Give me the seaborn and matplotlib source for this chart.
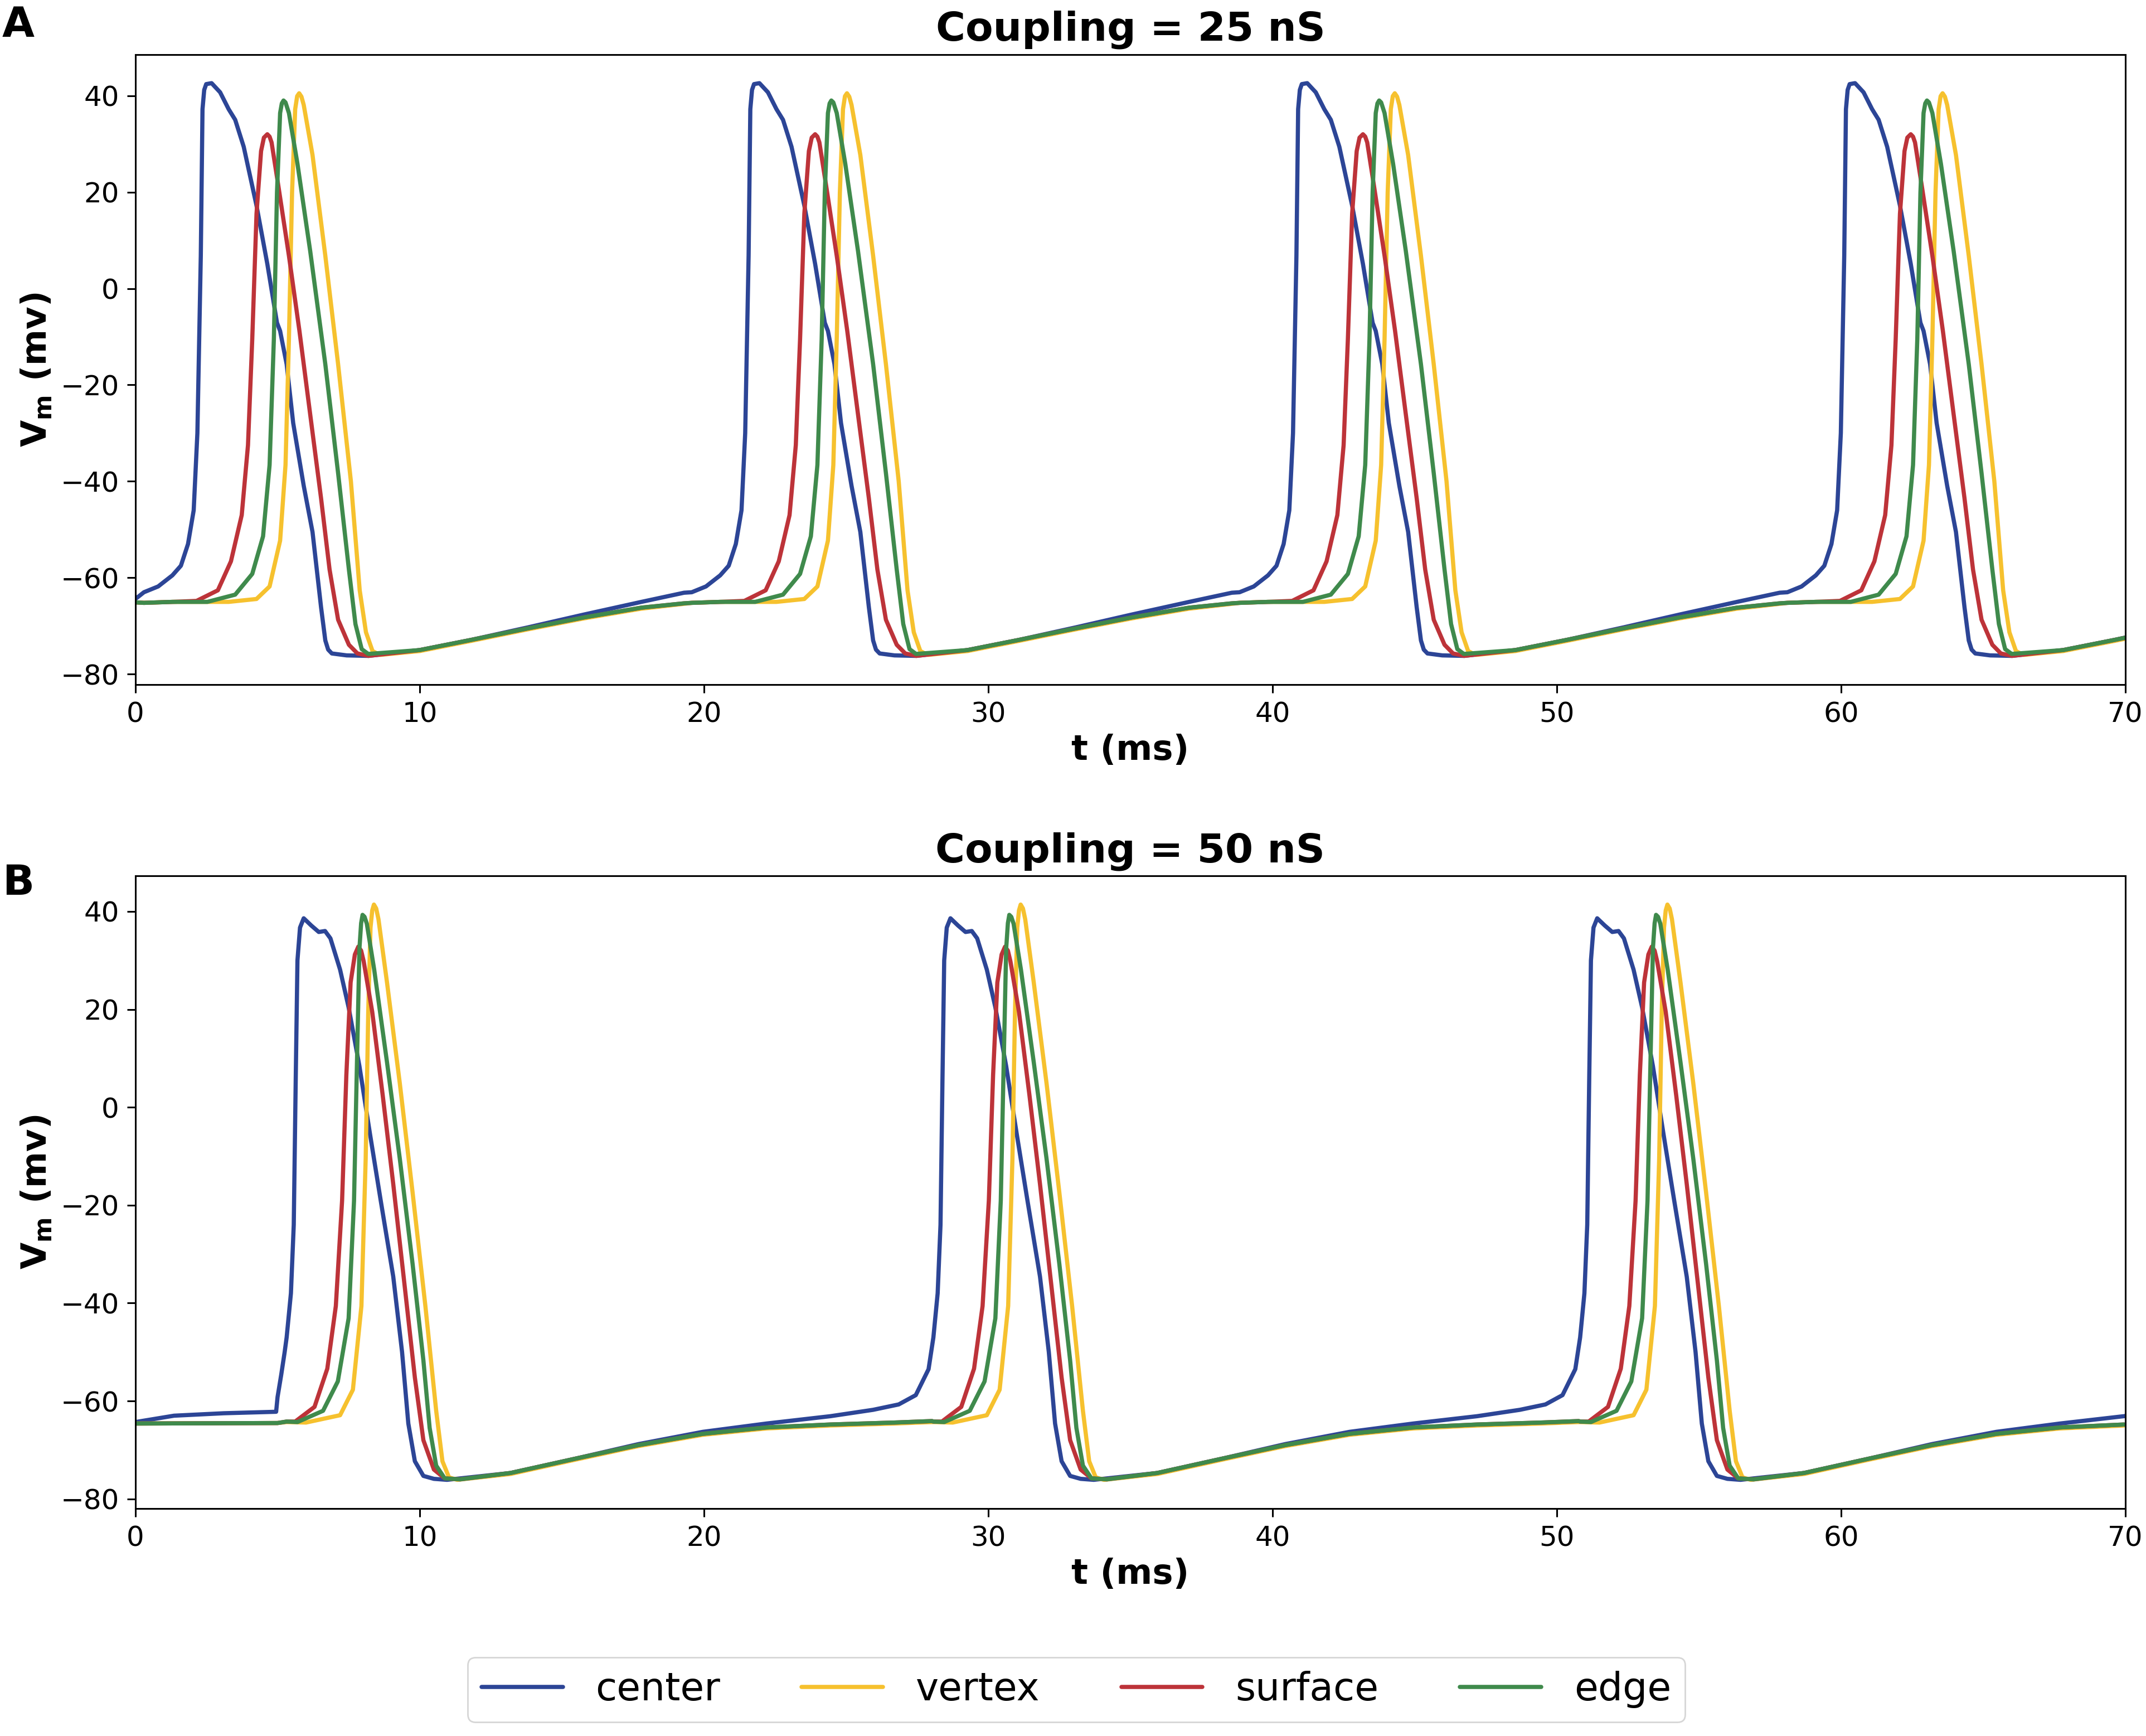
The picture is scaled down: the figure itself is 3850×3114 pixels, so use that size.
import numpy as np
import pandas as pd
import matplotlib.pyplot as plt
import seaborn as sns

#%%
# traces, in legend / drawing order
traces = ['center', 'vertex', 'surface', 'edge']
colors = {'center': '#2c4596', 'vertex': '#f6c12e', 'surface': '#bd3339', 'edge': '#3f8a4c'}

# ---------------- Panel A : coupling = 25 nS ----------------
# times of the centre upstroke (ms), one per spike
a_spike_t = [2.30, 21.57, 40.84, 60.11]
# value at t = 0, before the first cycle
a_pre_t = [0.0]
a_pre_v = {'center': [-64.4], 'vertex': [-65.1], 'surface': [-65.1], 'edge': [-65.1]}
# one cycle, time relative to the centre upstroke (ms) and Vm (mV)
a_center_r = [-2.0, -1.5, -1.0, -0.7, -0.45, -0.25, -0.12, 0.0, 0.06, 0.12, 0.19, 0.38, 0.68, 0.98,
              1.21, 1.51, 1.96, 2.34, 2.68, 2.79, 3.02, 3.25, 3.62, 3.93, 4.23, 4.38, 4.48, 4.61,
              5.13, 5.9, 7.7, 9.5, 11.5, 13.5, 15.5, 17.0]
a_center_v = [-63.0, -61.8, -59.5, -57.5, -53.0, -46.0, -30.0, 6.8, 37.2, 41.2, 42.4, 42.6, 40.7, 37.2,
              35.0, 29.4, 17.2, 5.1, -7.1, -8.8, -15.7, -27.9, -40.9, -50.5, -66.1, -73.0, -74.9, -75.7,
              -76.1, -76.2, -75.0, -72.9, -70.3, -67.6, -65.0, -63.1]
a_surface_r = [-2.0, -1.0, -0.15, 0.6, 1.06, 1.44, 1.66, 1.81, 1.96, 2.12, 2.22, 2.34, 2.42, 2.49, 2.72,
               3.10, 3.47, 3.85, 4.23, 4.53, 4.83, 5.21, 5.51, 5.9, 7.7, 9.5, 11.5, 13.5,
               15.5, 17.0]
a_surface_v = [-65.2, -65.0, -64.8, -62.6, -56.6, -47.0, -32.5, -10.5, 15.5, 28.5, 31.3, 32.0, 31.5, 30.3, 21.6,
               6.8, -8.8, -26.2, -43.5, -58.3, -68.7, -73.9, -75.7, -76.2, -75.0, -72.9, -70.5, -68.2,
               -66.2, -65.3]
a_edge_r = [-2.0, -1.0, 0.23, 1.21, 1.81, 2.19, 2.42, 2.57, 2.68, 2.79, 2.85, 2.91, 2.98, 3.10, 3.40,
            3.85, 4.38, 4.83, 5.21, 5.44, 5.66, 5.89, 7.7, 9.5, 11.5, 13.5, 15.5, 17.0]
a_edge_v = [-65.2, -65.0, -65.0, -63.5, -59.2, -51.4, -36.6, -10.5, 19.9, 36.4, 38.4, 39.0, 38.6, 36.4, 25.9,
            7.7, -15.7, -38.3, -58.3, -69.6, -74.8, -75.8, -75.0, -72.9, -70.5, -68.2, -66.2, -65.3]
a_vertex_r = [-2.0, -1.0, 0.98, 1.96, 2.42, 2.79, 2.98, 3.10, 3.21, 3.32, 3.39, 3.46, 3.54, 3.62, 3.93,
              4.38, 4.83, 5.28, 5.59, 5.81, 6.04, 6.3, 7.7, 9.5, 11.5, 13.5, 15.5, 17.0]
a_vertex_v = [-65.2, -65.0, -65.0, -64.4, -61.8, -52.3, -36.6, -10.5, 19.9, 37.2, 39.9, 40.5, 39.8, 38.1, 27.7,
              6.8, -15.7, -40.0, -62.6, -71.3, -75.2, -76.0, -75.2, -73.1, -70.7, -68.4, -66.4, -65.4]

# ---------------- Panel B : coupling = 50 nS ----------------
b_spike_t = [5.62, 28.37, 51.12]
b_pre_t = {'center': [0.0, 1.36, 3.11, 4.95, 5.0, 5.13, 5.25],
           'vertex': [0.0, 5.0], 'surface': [0.0, 5.0], 'edge': [0.0, 5.0]}
b_pre_v = {'center': [-64.3, -63.0, -62.5, -62.2, -59.2, -54.6, -50.0],
           'vertex': [-64.6, -64.5], 'surface': [-64.6, -64.5], 'edge': [-64.6, -64.5]}
b_center_r = [-0.3, -0.15, -0.05, 0.02, 0.08, 0.17, 0.3, 0.57, 0.83, 1.05, 1.24, 1.58, 1.88,
              2.26, 2.63, 3.01, 3.45, 3.76, 3.98, 4.21, 4.51, 4.88, 5.34, 7.58, 9.84, 12.08,
              14.34, 16.58, 18.83, 20.33, 21.23, 21.83, 22.28]
b_center_v = [-47.0, -38.0, -24.0, 6.0, 30.0, 36.7, 38.6, 37.1, 35.8, 36.0, 34.5, 28.1, 20.4,
              8.4, -5.4, -19.1, -34.6, -50.0, -64.6, -72.3, -75.3, -75.9, -76.1, -74.7, -71.8, -68.8,
              -66.3, -64.6, -63.1, -61.8, -60.7, -58.8, -53.5]
b_surface_r = [-0.3, 0.0, 0.68, 1.13, 1.43, 1.65, 1.80, 1.95, 2.10, 2.22, 2.32, 2.41, 2.71, 3.08, 3.45,
               3.83, 4.21, 4.51, 4.88, 5.26, 5.8, 7.58, 9.84, 12.08, 14.34, 16.58, 18.83,
               21.08, 22.4]
b_surface_v = [-64.2, -64.2, -61.2, -53.4, -40.6, -19.1, 6.6, 25.5, 31.2, 32.8, 32.0, 29.8, 19.5, 2.4, -15.7,
               -35.4, -55.2, -68.0, -74.0, -75.8, -76.0, -74.7, -71.8, -69.0, -66.7, -65.4, -64.8,
               -64.4, -64.1]
b_edge_r = [-0.3, 0.08, 0.98, 1.50, 1.88, 2.07, 2.18, 2.26, 2.32, 2.37, 2.44, 2.52, 2.78, 3.23, 3.68,
            4.13, 4.51, 4.73, 4.96, 5.26, 5.8, 7.58, 9.84, 12.08, 14.34, 16.58, 18.83,
            21.08, 22.4]
b_edge_v = [-64.2, -64.3, -62.0, -56.0, -43.1, -19.1, 10.9, 32.4, 37.6, 39.3, 38.9, 37.5, 28.1, 9.2, -10.5,
            -32.0, -51.7, -65.5, -73.2, -75.8, -76.0, -74.7, -71.8, -69.0, -66.7, -65.4, -64.8,
            -64.4, -64.1]
b_vertex_r = [-0.3, 0.38, 1.58, 2.03, 2.33, 2.48, 2.57, 2.65, 2.71, 2.77, 2.85, 2.93, 3.23, 3.68, 4.13,
              4.58, 4.96, 5.18, 5.41, 5.7, 7.58, 9.84, 12.08, 14.34, 16.58, 18.83, 21.08, 22.4]
b_vertex_v = [-64.3, -64.4, -62.9, -57.7, -40.6, -10.5, 19.5, 36.7, 40.2, 41.4, 40.6, 38.4, 25.5, 4.9, -17.4,
              -40.6, -62.0, -72.3, -75.6, -76.1, -74.9, -72.0, -69.2, -66.9, -65.6, -65.0, -64.6, -64.3]

a_cycle = {'center': (a_center_r, a_center_v), 'vertex': (a_vertex_r, a_vertex_v),
           'surface': (a_surface_r, a_surface_v), 'edge': (a_edge_r, a_edge_v)}
b_cycle = {'center': (b_center_r, b_center_v), 'vertex': (b_vertex_r, b_vertex_v),
           'surface': (b_surface_r, b_surface_v), 'edge': (b_edge_r, b_edge_v)}


#%%
def build_panel(pre_t, pre_v, cycles, spike_t, t_max=72.0):
    rows = []
    for name in traces:
        p_t = pre_t[name] if isinstance(pre_t, dict) else pre_t
        for t_, v_ in zip(p_t, pre_v[name]):
            rows.append((t_, v_, name))
        rel_t, rel_v = cycles[name]
        for ref in spike_t:
            for r, v_ in zip(rel_t, rel_v):
                if ref + r <= t_max:
                    rows.append((ref + r, v_, name))
    return pd.DataFrame(rows, columns=['t', 'v', 'trace'])


df_a = build_panel(a_pre_t, a_pre_v, a_cycle, a_spike_t)
df_b = build_panel(b_pre_t, b_pre_v, b_cycle, b_spike_t)

#%%
sns.set_style('ticks')
plt.rcParams['text.color'] = 'black'
plt.rcParams['axes.labelcolor'] = 'black'
fig = plt.figure(figsize=(19.25, 15.57), dpi=200)
ax_a = fig.add_axes([0.0631, 0.6057, 0.9273, 0.3629])
ax_b = fig.add_axes([0.0631, 0.1310, 0.9273, 0.3645])

for ax, df, title in [(ax_a, df_a, 'Coupling = 25 nS'), (ax_b, df_b, 'Coupling = 50 nS')]:
    sns.lineplot(data=df, x='t', y='v', hue='trace', hue_order=traces, palette=colors,
                 estimator=None, sort=False, lw=2.7, legend=False, ax=ax)
    ax.set_xlim(0, 70)
    ax.set_xticks(np.arange(0, 71, 10))
    ax.set_yticks(np.arange(-80, 41, 20))
    ax.set_title(title, fontsize=26, fontweight='bold', pad=9, color='black')
    ax.set_xlabel('t (ms)', fontsize=22.5, fontweight='bold')
    ax.set_ylabel(r'$\mathbf{V_m}$ (mv)', fontsize=22.5, fontweight='bold')
    ax.tick_params(labelsize=18, length=5.5, width=1.1, pad=5, colors='black')
    for s in ax.spines.values():
        s.set_linewidth(1.1)
        s.set_color('black')

fig.text(0.001, 0.997, 'A', fontsize=27, fontweight='bold', va='top', ha='left')
fig.text(0.001, 0.5029, 'B', fontsize=27, fontweight='bold', va='top', ha='left')

handles = ax_a.get_lines()[:4]
fig.legend(handles, traces, loc='center', bbox_to_anchor=(0.5016, 0.0267), ncol=4,
           fontsize=25, handlelength=2.1, columnspacing=2.1, handletextpad=0.85,
           borderaxespad=0, borderpad=0.35, frameon=True)

fig.savefig('out.png', dpi=200)
